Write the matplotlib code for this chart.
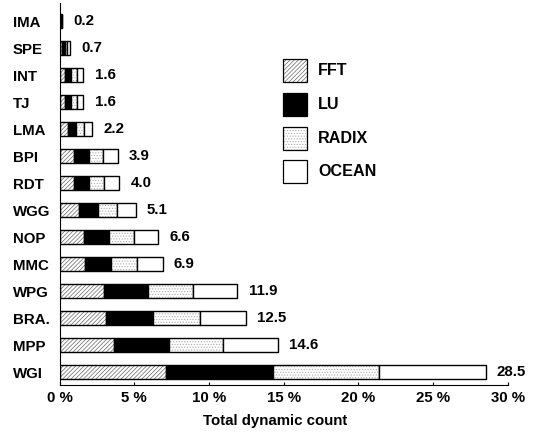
import matplotlib
matplotlib.use('Agg')
from matplotlib import pyplot as plt
from matplotlib.patches import Rectangle

plt.rcParams['font.family'] = ['Liberation Sans', 'DejaVu Sans']
plt.rcParams['font.weight'] = 'bold'
plt.rcParams['hatch.linewidth'] = 0.5

# benchmarks, top to bottom
names = ['IMA', 'SPE', 'INT', 'TJ', 'LMA', 'BPI', 'RDT',
         'WGG', 'NOP', 'MMC', 'WPG', 'BRA.', 'MPP', 'WGI']
totals = [0.2, 0.7, 1.6, 1.6, 2.2, 3.9, 4.0,
          5.1, 6.6, 6.9, 11.9, 12.5, 14.6, 28.5]
# segment widths (%)
fft = [0.05, 0.175, 0.4, 0.4, 0.55, 0.975, 1.0,
       1.275, 1.65, 1.725, 2.975, 3.125, 3.65, 7.125]
lu = [0.05, 0.175, 0.4, 0.4, 0.55, 0.975, 1.0,
      1.275, 1.65, 1.725, 2.975, 3.125, 3.65, 7.125]
radix = [0.05, 0.175, 0.4, 0.4, 0.55, 0.975, 1.0,
         1.275, 1.65, 1.725, 2.975, 3.125, 3.65, 7.125]
ocean = [0.05, 0.175, 0.4, 0.4, 0.55, 0.975, 1.0,
         1.275, 1.65, 1.725, 2.975, 3.125, 3.65, 7.125]
series = ['FFT', 'LU', 'RADIX', 'OCEAN']
xticks = [0, 5, 10, 15, 20, 25, 30]

FS = 10.8
W, H = 538, 432
# fill, hatch, hatch colour
styles = [('white', '////////', '#666666'), ('black', None, 'black'),
          ('white', '......', '#aaaaaa'), ('white', None, 'black')]

fig = plt.figure(figsize=(W / 100, H / 100), dpi=100)
ax = fig.add_axes([59.5 / W, 47 / H, (508 - 59.5) / W, (385 - 3) / H])

n = len(names)
ypos = [n - 1 - i for i in range(n)]
left = [0.0] * n
for vals, (fc, hatch, hc) in zip([fft, lu, radix, ocean], styles):
    # hatch drawn in gray, outline in black on top
    ax.barh(ypos, vals, left=left, height=0.52, color=fc, hatch=hatch,
            edgecolor=hc, linewidth=0)
    ax.barh(ypos, vals, left=left, height=0.52, fill=False,
            edgecolor='black', linewidth=1.0)
    left = [l + v for l, v in zip(left, vals)]

for y, t in zip(ypos, totals):
    ax.annotate('%.1f' % t, (t, y), xytext=(8, 0), textcoords='offset points',
                va='center', ha='left', fontsize=FS, fontweight='bold')

ax.set_xlim(0, 30)
ax.set_ylim(-0.48, n - 1 + 0.67)
ax.set_xticks(xticks)
ax.set_xticklabels(['%d %%' % v for v in xticks], fontsize=FS, fontweight='bold')
ax.tick_params(axis='x', direction='in', length=2.5, pad=4)
ax.set_yticks(ypos)
ax.set_yticklabels(names, fontsize=FS, fontweight='bold')
ax.tick_params(axis='y', length=0, pad=33.5)
for lab in ax.get_yticklabels():
    lab.set_ha('left')
ax.spines['top'].set_visible(False)
ax.spines['right'].set_visible(False)
ax.set_xlabel('Total dynamic count', fontsize=FS, fontweight='bold')
ax.xaxis.set_label_coords((275 - 59.5) / (508 - 59.5), -0.075)

# legend drawn by hand: squares + labels
for i, (name, (fc, hatch, hc)) in enumerate(zip(series, styles)):
    top = 59.3 + i * 33.7
    sq = Rectangle((282.5 / W, 1 - (top + 23) / H), 24 / W, 23 / H,
                   transform=fig.transFigure, facecolor=fc, hatch=hatch,
                   edgecolor=hc, linewidth=0)
    fig.patches.append(sq)
    fr = Rectangle((282.5 / W, 1 - (top + 23) / H), 24 / W, 23 / H,
                   transform=fig.transFigure, fill=False, edgecolor='black', linewidth=0.9)
    fig.patches.append(fr)
    fig.text(318 / W, 1 - (top + 11.5) / H, name, fontsize=11.6, fontweight='bold',
             va='center', ha='left')

fig.savefig('out.png', dpi=100)
